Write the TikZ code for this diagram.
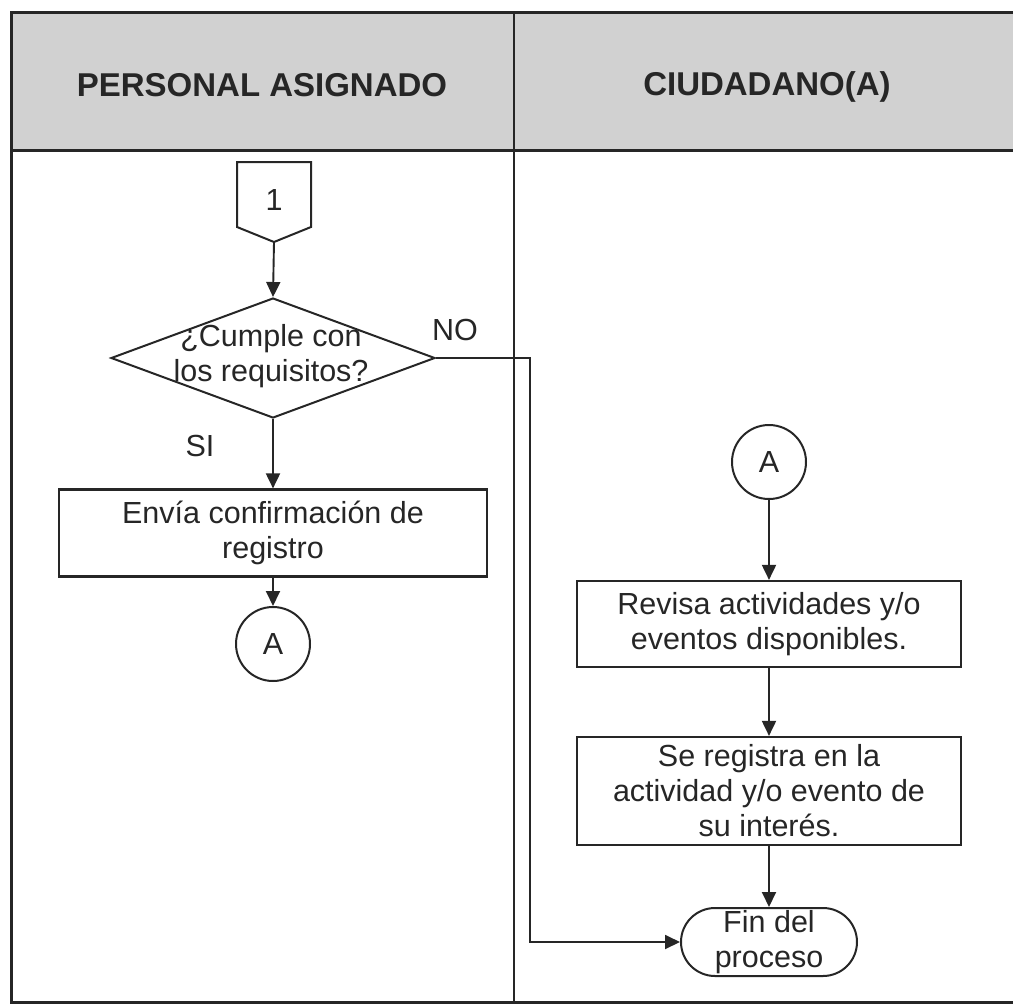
\documentclass[tikz,border=0pt]{standalone}
\usepackage{fontspec}
\setmainfont{Liberation Sans}
\usetikzlibrary{shapes.geometric,arrows.meta,positioning}

\begin{document}
\begin{tikzpicture}[x=1pt, y=-1pt,
    every node/.style={font=\fontsize{30.5}{35}\selectfont, text=black!85},
    flecha/.style={line width=1.9pt, draw=black!85, -{Triangle[length=15pt,width=14pt]}},
    caja/.style={draw=black!85, rectangle, line width=2.2pt, align=center, inner sep=0pt},
    conector/.style={draw=black!85, circle, line width=2pt, minimum size=74pt, inner sep=0pt},
    decision/.style={draw=black!85, diamond, line width=2pt, minimum width=324pt, minimum height=120pt, aspect=2.7, inner sep=0pt},
    terminal/.style={draw=black!85, rounded corners=34pt, line width=2pt, minimum width=176pt, minimum height=68pt, align=center, inner sep=0pt},
    titulo/.style={font=\bfseries\fontsize{33}{38}\selectfont}]
            \useasboundingbox (0,0) rectangle (1013,1005);
            % carriles
            \fill[black!18] (11,12) rectangle (1013,150);
            \draw[line width=3pt, black!85] (1013,12) -- (11,12) -- (11,1002) -- (1013,1002);
            \draw[line width=3pt, black!85] (11,150) -- (1013,150);
            \draw[line width=2.4pt, black!85] (514,12) -- (514,1002);
            \node[titulo] (carrilA) at (262,85) {PERSONAL ASIGNADO};
            \node[titulo] (carrilB) at (767,87) {CIUDADANO(A)};
            % personal asignado
            \node (uno) at (274,200) {1};
            \draw[line width=2pt, black!85] (237,162) -- (311,162) -- (311,227) -- (274,242) -- (237,227) -- cycle;
            \coordinate (unopunta) at (274,242);
            \node[decision] (decide) at (273,358) {};
            \node[align=center] (pregunta) at (271,356) {¿Cumple con\\los requisitos?};
            \node (si) at (200,446) {SI};
            \node (no) at (455,330) {NO};
            \node[caja, minimum width=428pt, minimum height=87pt] (envia) at (273,533) {Envía confirmación de\\registro};
            \node[conector] (conA) at (273,644) {A};
            % ciudadano
            \node[conector] (conB) at (769,462) {A};
            \node[caja, minimum width=384pt, minimum height=86pt] (revisa) at (769,624) {Revisa actividades y/o\\eventos disponibles.};
            \node[caja, minimum width=384pt, minimum height=108pt] (registra) at (769,791) {Se registra en la\\actividad y/o evento de\\su interés.};
            \node[terminal] (fin) at (769,942) {Fin del\\proceso};
            \coordinate (codo) at (530,942);
            % flujo
            \draw[flecha] (unopunta) -- (decide.north);
            \draw[flecha] (decide.south) -- (envia.north);
            \draw[flecha] (envia.south) -- (conA.north);
            \draw[flecha] (decide.east) -| (codo) -- (fin.west);
            \draw[flecha] (conB.south) -- (revisa.north);
            \draw[flecha] (revisa.south) -- (registra.north);
            \draw[flecha] (registra.south) -- (fin.north);
        \end{tikzpicture}
\end{document}
